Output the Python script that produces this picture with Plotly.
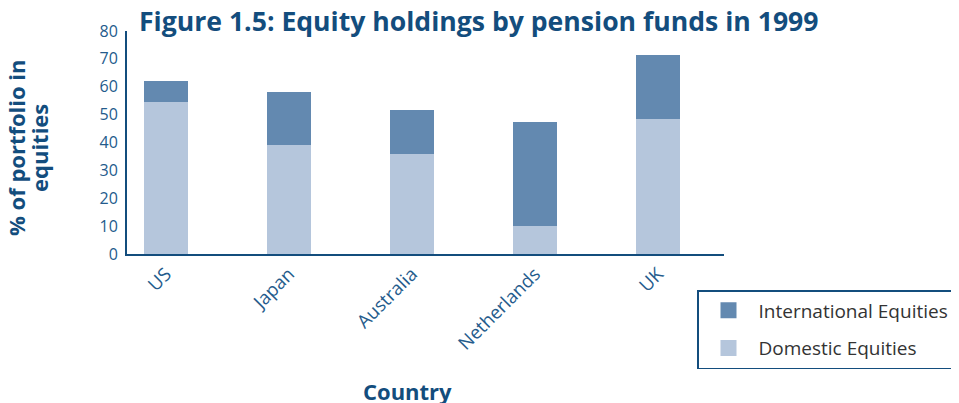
import plotly.graph_objects as go

countries = ["US", "Japan", "Australia", "Netherlands", "UK"]
domestic = [54.5, 39, 36, 10, 48.5]
international = [7.5, 19, 15.7, 37.3, 22.8]
y_ticks = [0, 10, 20, 30, 40, 50, 60, 70, 80]

OFF = 8  # page body margin
W, H = 959, 403 - OFF
L, R, T, B = 127 - OFF, 724 - OFF, 31 - OFF, 254 - OFF

DARK = "#134d7d"
TICK = "#245b8c"
FONT = "Open Sans"
C_DOM = "#b5c6dc"
C_INT = "#6389b0"


def px_x(x):
    return (x - OFF - L) / (R - L)


def px_y(y):
    return (B - (y - OFF)) / (B - T)


fig = go.Figure()
fig.add_trace(go.Bar(x=countries, y=domestic, name="Domestic Equities", showlegend=False,
                     marker=dict(color=C_DOM, line=dict(width=0)), width=0.36))
fig.add_trace(go.Bar(x=countries, y=international, name="International Equities",
                     showlegend=False,
                     marker=dict(color=C_INT, line=dict(width=0)), width=0.36))
# legend entries
fig.add_trace(go.Scatter(x=[None], y=[None], mode="markers", name="International Equities",
                         legendgroup="i", marker=dict(symbol="square", size=18, color=C_INT)))
fig.add_trace(go.Scatter(x=[None], y=[None], mode="markers", name="Domestic Equities",
                         legendgroup="d", marker=dict(symbol="square", size=18, color=C_DOM)))

fig.update_layout(
    width=W, height=H,
    margin=dict(l=L, r=W - R, t=T, b=H - B, pad=0),
    barmode="stack",
    plot_bgcolor="white", paper_bgcolor="white",
    font=dict(family=FONT, color=TICK),
    title=dict(text="<b>Figure 1.5: Equity holdings by pension funds in 1999</b>",
               font=dict(family=FONT, size=26.6, color=DARK),
               x=px_x(139), xref="paper", xanchor="left",
               y=1 - (22 - OFF) / H, yref="container", yanchor="middle"),
    xaxis=dict(type="category", range=[-0.317, 4.537], showline=True, linecolor=DARK,
               linewidth=2, showgrid=False, ticks="", tickangle=-45,
               tickfont=dict(size=18.5, color=TICK, family=FONT)),
    yaxis=dict(range=[0, 80], tickvals=y_ticks, showline=True, linecolor=DARK,
               linewidth=2, showgrid=False, zeroline=False, ticks="",
               ticklabelstandoff=4,
               tickfont=dict(size=16, color=TICK, family=FONT)),
    legend=dict(x=px_x(697), xanchor="left", y=px_y(290),
                yanchor="top", traceorder="grouped", bgcolor="white",
                bordercolor=DARK, borderwidth=1.5,
                font=dict(size=19, color="#333333", family=FONT),
                tracegroupgap=10, itemwidth=50),
    showlegend=True,
    annotations=[
        dict(text="<b>% of portfolio in</b>", textangle=-90,
             x=px_x(16), y=px_y(148), xref="paper", yref="paper",
             xanchor="center", yanchor="middle",
             showarrow=False, font=dict(size=22, color=DARK, family=FONT)),
        dict(text="<b>equities</b>", textangle=-90,
             x=px_x(39), y=px_y(148), xref="paper", yref="paper",
             xanchor="center", yanchor="middle",
             showarrow=False, font=dict(size=22, color=DARK, family=FONT)),
        dict(text="<b>Country</b>", x=px_x(407), y=px_y(391),
             xref="paper", yref="paper", xanchor="center", yanchor="middle",
             showarrow=False, font=dict(size=22, color=DARK, family=FONT)),
    ],
)

fig.write_html("out.html")
